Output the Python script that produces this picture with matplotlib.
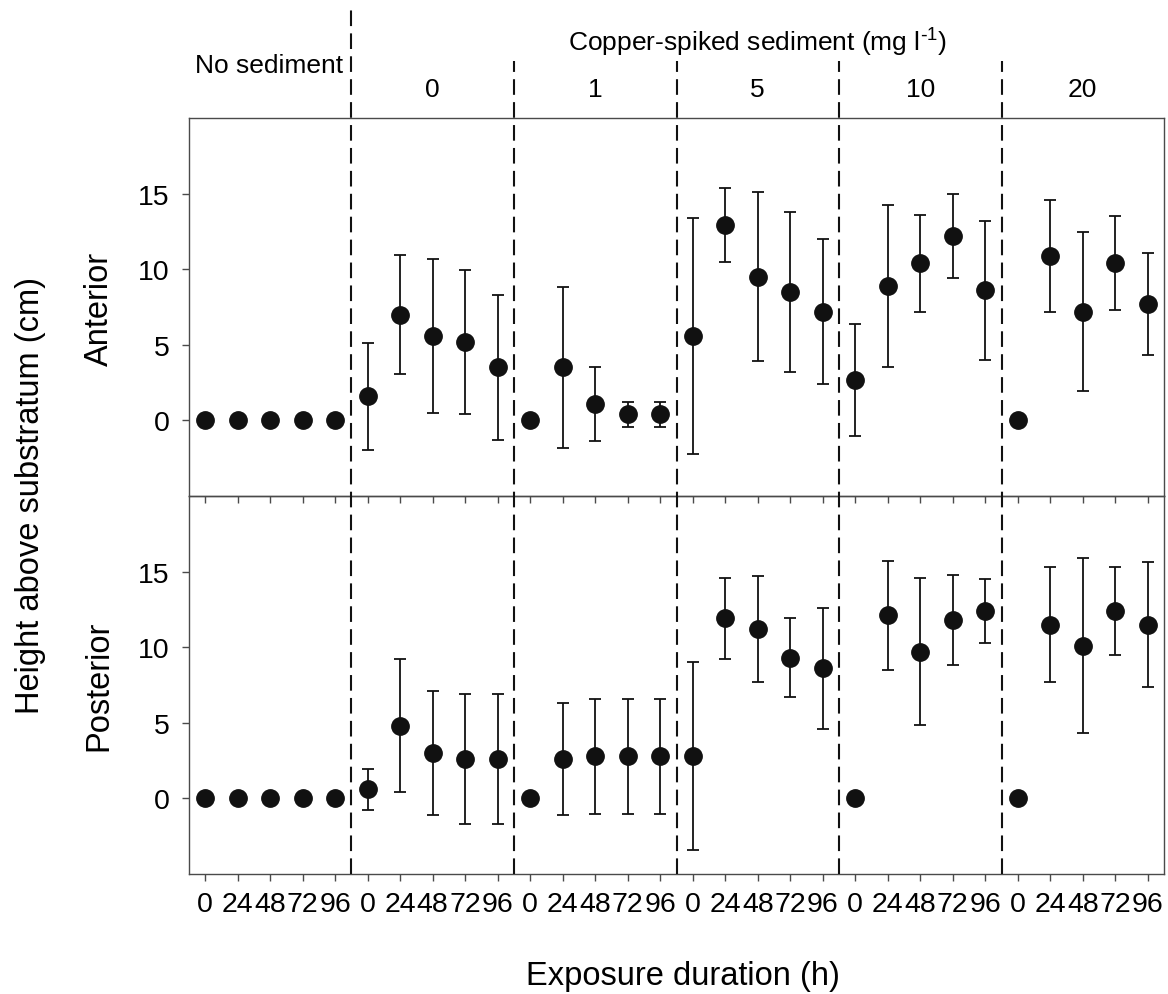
import numpy as np
import matplotlib
matplotlib.use("Agg")
import matplotlib.pyplot as plt
import matplotlib.transforms as mtransforms

plt.rcParams['font.family'] = ['Liberation Sans', 'DejaVu Sans']
plt.rcParams['mathtext.default'] = 'regular'

times = ["0", "24", "48", "72", "96"]
groups = ["No sediment", "0", "1", "5", "10", "20"]

anterior_mean = [0, 0, 0, 0, 0,
                 1.6, 7.0, 5.6, 5.2, 3.5,
                 0, 3.5, 1.1, 0.4, 0.4,
                 5.6, 12.9, 9.5, 8.5, 7.2,
                 2.7, 8.9, 10.4, 12.2, 8.6,
                 0, 10.9, 7.2, 10.4, 7.7]
anterior_err = [0, 0, 0, 0, 0,
                3.55, 3.95, 5.1, 4.75, 4.8,
                0, 5.3, 2.45, 0.85, 0.85,
                7.8, 2.45, 5.6, 5.3, 4.8,
                3.7, 5.35, 3.2, 2.8, 4.6,
                0, 3.7, 5.25, 3.1, 3.35]
posterior_mean = [0, 0, 0, 0, 0,
                  0.6, 4.8, 3.0, 2.6, 2.6,
                  0, 2.6, 2.8, 2.8, 2.8,
                  2.8, 11.9, 11.2, 9.3, 8.6,
                  0, 12.1, 9.7, 11.8, 12.4,
                  0, 11.5, 10.1, 12.4, 11.5]
posterior_err = [0, 0, 0, 0, 0,
                 1.35, 4.4, 4.1, 4.3, 4.3,
                 0, 3.7, 3.8, 3.8, 3.8,
                 6.2, 2.7, 3.5, 2.6, 4.0,
                 0, 3.6, 4.85, 3.0, 2.1,
                 0, 3.8, 5.8, 2.9, 4.15]

n_t = len(times)
x = np.arange(len(groups) * n_t)
spine_col = "#4a4a4a"

fig = plt.figure(figsize=(11.68, 9.95), dpi=100)
ax1 = fig.add_axes([0.1618, 0.5005, 0.8348, 0.3799])
ax2 = fig.add_axes([0.1618, 0.1206, 0.8348, 0.3799])
ax2.patch.set_visible(False)

for ax, m, e in [(ax1, anterior_mean, anterior_err), (ax2, posterior_mean, posterior_err)]:
    ax.errorbar(x, m, yerr=e, fmt='o', color='#111111', ms=12.5,
                elinewidth=1.3, capsize=4.5, capthick=1.3, zorder=3)
    ax.set_xlim(-0.5, len(x) - 0.5)
    ax.set_ylim(-5, 20)
    ax.set_yticks([0, 5, 10, 15])
    ax.set_xticks(x)
    for s in ax.spines.values():
        s.set_color(spine_col)
        s.set_linewidth(1.0)
    ax.tick_params(direction='out', length=5, width=1.0, color=spine_col,
                   labelsize=20.5, pad=9)

ax1.set_xticklabels([])
ax2.set_xticklabels(times * len(groups))
ax2.tick_params(axis='x', pad=7)

# group separators, running from the bottom panel up into the header
trans = mtransforms.blended_transform_factory(ax2.transData, ax2.transAxes)
for i in range(1, len(groups)):
    top = 2.29 if i == 1 else 2.15
    ax2.plot([i * n_t - 0.5] * 2, [0, top], transform=trans, clip_on=False,
             color='#111111', lw=1.5, dashes=(7.5, 3.5), zorder=5)

htrans = mtransforms.blended_transform_factory(ax1.transData, ax1.transAxes)
ax1.text(n_t - 0.5 - 0.25, 1.122, groups[0], transform=htrans, ha='right',
         va='baseline', fontsize=19)
ax1.text((n_t - 0.5 + len(x) - 0.5) / 2, 1.177,
         r"Copper-spiked sediment (mg l$^{\text{-}1}$)", transform=htrans,
         ha='center', va='baseline', fontsize=19)
for i, g in enumerate(groups[1:], start=1):
    ax1.text(i * n_t + (n_t - 1) / 2, 1.058, g, transform=htrans,
             ha='center', va='baseline', fontsize=19)

fig.text(0.0257, 0.5025, "Height above substratum (cm)", rotation=90,
         ha='center', va='center', fontsize=23.5)
fig.text(0.0848, 0.690, "Anterior", rotation=90, ha='center', va='center',
         fontsize=23.5)
fig.text(0.0848, 0.3106, "Posterior", rotation=90, ha='center', va='center',
         fontsize=23.5)
fig.text(0.585, 0.010, "Exposure duration (h)", ha='center', va='baseline',
         fontsize=23.5)

fig.savefig("out.png", dpi=100)
